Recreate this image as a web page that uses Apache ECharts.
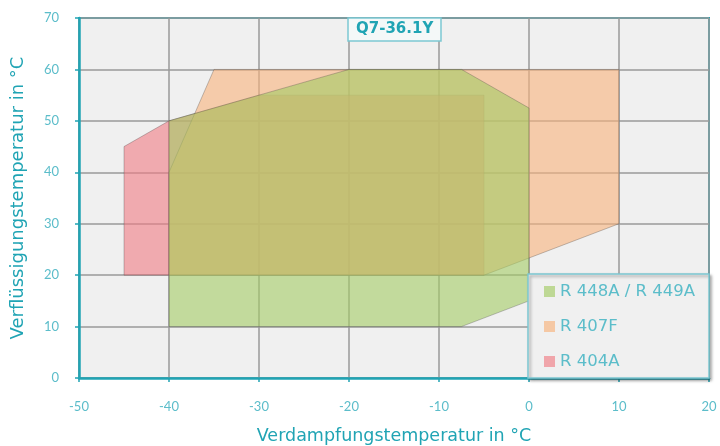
<!DOCTYPE html>
<html>
<head>
<meta charset="utf-8">
<script src="https://cdn.jsdelivr.net/npm/echarts@6/dist/echarts.min.js"></script>
<style>
  html, body { margin: 0; padding: 0; background: #fff; }
  #chart { width: 720px; height: 446px; }
</style>
</head>
<body>
<div id="chart"></div>
<script>
var chartTitle = 'Q7-36.1Y';
var seriesNames = ['R 448A / R 449A', 'R 407F', 'R 404A'];

// Einsatzgrenzen: [Verdampfungstemperatur, Verflüssigungstemperatur]
var r404a = [[-45, 20], [-45, 45], [-40, 50], [-30, 55], [-5, 55], [-5, 20]];
var r407f = [[-40, 20], [-40, 40], [-35, 60], [10, 60], [10, 30], [-5, 20]];
var r448a = [[-40, 10], [-40, 50], [-30, 55], [-20, 60], [-7.5, 60], [0, 52.5], [0, 15], [-7.5, 10]];

var xTicks = [-50, -40, -30, -20, -10, 0, 10, 20];
var yTicks = [0, 10, 20, 30, 40, 50, 60, 70];

var teal = '#20a4b4';
var tealText = '#5cbdca';

function polygonSeries(name, points, color) {
    return {
        name: name,
        type: 'custom',
        itemStyle: { color: color, opacity: 0.65 },
        data: points,
        encode: { x: 0, y: 1 },
        renderItem: function (params, api) {
            if (params.dataIndex !== 0) {
                return;
            }
            var pts = points.map(function (p) { return api.coord(p); });
            return {
                type: 'polygon',
                shape: { points: pts },
                style: {
                    fill: color,
                    opacity: 0.6,
                    stroke: 'rgba(60,60,60,0.5)',
                    lineWidth: 1
                }
            };
        }
    };
}

var myChart = echarts.init(document.getElementById('chart'));
var option = {
    animation: false,
    backgroundColor: '#fff',
    textStyle: { fontFamily: 'Lato' },
    grid: {
        left: 79, right: 11, top: 18, bottom: 68,
        containLabel: false,
        outerBoundsMode: 'none',
        show: true,
        backgroundColor: '#f0f0f0',
        borderColor: teal,
        borderWidth: 2
    },
    title: {
        text: chartTitle,
        left: 348,
        top: 18,
        padding: [4, 8, 4, 8],
        backgroundColor: '#f4f8f8',
        borderColor: '#7cc8d2',
        borderWidth: 1.5,
        textStyle: { color: teal, fontSize: 15, fontWeight: 'bold', fontFamily: 'DejaVu Sans' }
    },
    legend: {
        data: seriesNames,
        orient: 'vertical',
        left: 528,
        top: 274,
        padding: [9, 14, 8, 16],
        itemGap: 18,
        itemWidth: 11,
        itemHeight: 11,
        icon: 'rect',
        backgroundColor: '#f0f0f0',
        borderColor: '#7cc8d2',
        borderWidth: 1.5,
        shadowColor: 'rgba(0,0,0,0.35)',
        shadowBlur: 3,
        shadowOffsetX: 2,
        shadowOffsetY: 2,
        textStyle: { color: tealText, fontSize: 16.5, fontFamily: 'DejaVu Sans' }
    },
    xAxis: {
        type: 'value',
        min: xTicks[0],
        max: xTicks[xTicks.length - 1],
        interval: 10,
        name: 'Verdampfungstemperatur in °C',
        nameLocation: 'middle',
        nameGap: 49,
        nameTextStyle: { color: teal, fontSize: 17.5, fontFamily: 'DejaVu Sans' },
        axisLine: { show: true, onZero: false, lineStyle: { color: teal, width: 2.5 } },
        axisTick: { show: true, length: 4, lineStyle: { color: teal, width: 1.5 } },
        axisLabel: { color: tealText, fontSize: 13, margin: 22 },
        splitLine: { show: true, lineStyle: { color: '#9a9a9a', width: 1.5 } }
    },
    yAxis: {
        type: 'value',
        min: yTicks[0],
        max: yTicks[yTicks.length - 1],
        interval: 10,
        name: 'Verflüssigungstemperatur in °C',
        nameLocation: 'middle',
        nameGap: 52,
        nameTextStyle: { color: teal, fontSize: 18, fontFamily: 'DejaVu Sans' },
        axisLine: { show: true, onZero: false, lineStyle: { color: teal, width: 2.5 } },
        axisTick: { show: true, length: 4, lineStyle: { color: teal, width: 1.5 } },
        axisLabel: { color: tealText, fontSize: 13, margin: 20 },
        splitLine: { show: true, lineStyle: { color: '#9a9a9a', width: 1.5 } }
    },
    series: [
        polygonSeries(seriesNames[2], r404a, '#f07c84'),
        polygonSeries(seriesNames[1], r407f, '#f8b27b'),
        polygonSeries(seriesNames[0], r448a, '#a3cb64')
    ]
};
myChart.setOption(option, true);
</script>
</body>
</html>
